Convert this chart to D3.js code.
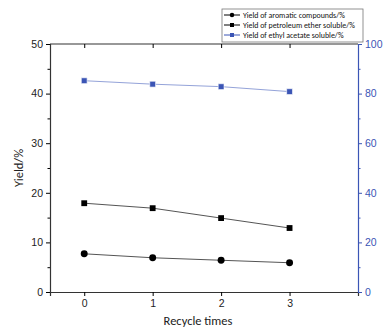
<!DOCTYPE html>
<html>
<head>
<meta charset="utf-8">
<script src="https://cdn.jsdelivr.net/npm/d3@7"></script>
<style>
  body { margin: 0; background: #fff; }
  svg { font-family: Calibri, Carlito, "Liberation Sans", Arial, sans-serif; }
</style>
</head>
<body>
<svg id="chart" width="385" height="331"></svg>
<script>
// recycle data
var cycles = [0, 1, 2, 3];
var aromatic = [7.7, 6.9, 6.4, 5.9];
var petroleum = [17.9, 16.9, 14.9, 12.9];
var ethylAcetate = [85.2, 83.8, 82.8, 80.8];
var leftTicks = [0, 10, 20, 30, 40, 50];
var rightTicks = [0, 20, 40, 60, 80, 100];
var legendNames = ["Yield of aromatic compounds/%", "Yield of petroleum ether soluble/%", "Yield of ethyl acetate soluble/%"];

var BLUE = "#3b55b5";
var svg = d3.select("#chart");

var x = d3.scaleLinear().domain([-0.5, 4]).range([50, 358]);
var yL = d3.scaleLinear().domain([0, 50]).range([292, 44]);
var yR = d3.scaleLinear().domain([0, 100]).range([292, 44]);

// frame line on top
svg.append("line").attr("x1", 50).attr("x2", 358).attr("y1", 44).attr("y2", 44)
    .attr("stroke", "#333").attr("stroke-width", 1.2);

// bottom axis
var xAxis = svg.append("g").attr("transform", "translate(0,292)")
    .call(d3.axisBottom(x).tickValues(cycles).tickFormat(d3.format("d")).tickSize(4).tickPadding(4));
xAxis.select(".domain").attr("stroke", "#333").attr("stroke-width", 1.2);

// top ticks pointing inward
svg.append("g").attr("transform", "translate(0,44)")
    .call(d3.axisBottom(x).tickValues(cycles).tickFormat("").tickSize(4))
    .select(".domain").remove();

// left axis with minor ticks
var leftMinor = d3.range(5, 50, 10);
svg.append("g").attr("transform", "translate(50,0)")
    .call(d3.axisLeft(yL).tickValues(leftMinor).tickFormat("").tickSize(2.5))
    .select(".domain").remove();
var yAxisL = svg.append("g").attr("transform", "translate(50,0)")
    .call(d3.axisLeft(yL).tickValues(leftTicks).tickSize(4).tickPadding(3));
yAxisL.select(".domain").attr("stroke", "#333").attr("stroke-width", 1.2);

// right axis
var rightMinor = d3.range(10, 100, 20);
svg.append("g").attr("transform", "translate(358,0)")
    .call(d3.axisRight(yR).tickValues(rightMinor).tickFormat("").tickSize(2.5))
    .call(g => g.selectAll("line").attr("stroke", BLUE))
    .select(".domain").remove();
var yAxisR = svg.append("g").attr("transform", "translate(358,0)")
    .call(d3.axisRight(yR).tickValues(rightTicks).tickSize(4).tickPadding(3));
yAxisR.select(".domain").attr("stroke", BLUE).attr("stroke-width", 1.2);
yAxisR.selectAll("line").attr("stroke", BLUE);
yAxisR.selectAll("text").attr("fill", BLUE);

svg.selectAll(".tick text").attr("font-size", 10.5);
xAxis.selectAll("text").attr("fill", "#222");
yAxisL.selectAll("text").attr("fill", "#222");
svg.selectAll(".tick line").attr("stroke-width", 1);

// axis titles
svg.append("text").attr("x", 198).attr("y", 325).attr("text-anchor", "middle")
    .attr("font-size", 12.5).attr("fill", "#222").text("Recycle times");
svg.append("text").attr("transform", "translate(23,168) rotate(-90)")
    .attr("text-anchor", "middle").attr("font-size", 12.5).attr("fill", "#222").text("Yield/%");

// series
function drawSeries(vals, yScale, color, lineColor, shape, outline) {
    var pts = cycles.map((c, i) => [c, vals[i]]);
    svg.append("path").datum(pts)
        .attr("fill", "none").attr("stroke", lineColor).attr("stroke-width", 1)
        .attr("d", d3.line().x(d => x(d[0])).y(d => yScale(d[1])));
    var sym = d3.symbol().type(shape === "circle" ? d3.symbolCircle : d3.symbolSquare)
        .size(shape === "circle" ? 38 : 34);
    svg.append("g").selectAll("path").data(pts).enter().append("path")
        .attr("transform", d => "translate(" + x(d[0]) + "," + yScale(d[1]) + ")")
        .attr("d", sym).attr("fill", color)
        .attr("stroke", outline ? "#fff" : "none").attr("stroke-width", 0.6);
}
drawSeries(aromatic, yL, "#000", "#555", "circle", false);
drawSeries(petroleum, yL, "#000", "#555", "square", false);
drawSeries(ethylAcetate, yR, BLUE, "#94a3d9", "square", true);

// legend
var leg = svg.append("g");
leg.append("rect").attr("x", 222).attr("y", 9).attr("width", 141).attr("height", 33)
    .attr("fill", "#fff").attr("stroke", "#777").attr("stroke-width", 0.8);
var legColors = ["#000", "#000", BLUE];
var legShapes = [d3.symbolCircle, d3.symbolSquare, d3.symbolSquare];
legendNames.forEach(function (name, i) {
    var ly = 15 + i * 10;
    leg.append("line").attr("x1", 224).attr("x2", 240).attr("y1", ly).attr("y2", ly)
        .attr("stroke", legColors[i]).attr("stroke-width", 1);
    leg.append("path").attr("transform", "translate(232," + ly + ")")
        .attr("d", d3.symbol().type(legShapes[i]).size(16)).attr("fill", legColors[i]);
    leg.append("text").attr("x", 243).attr("y", ly + 2.8).attr("font-size", 7.9)
        .attr("fill", "#111").text(name);
});
</script>
</body>
</html>
